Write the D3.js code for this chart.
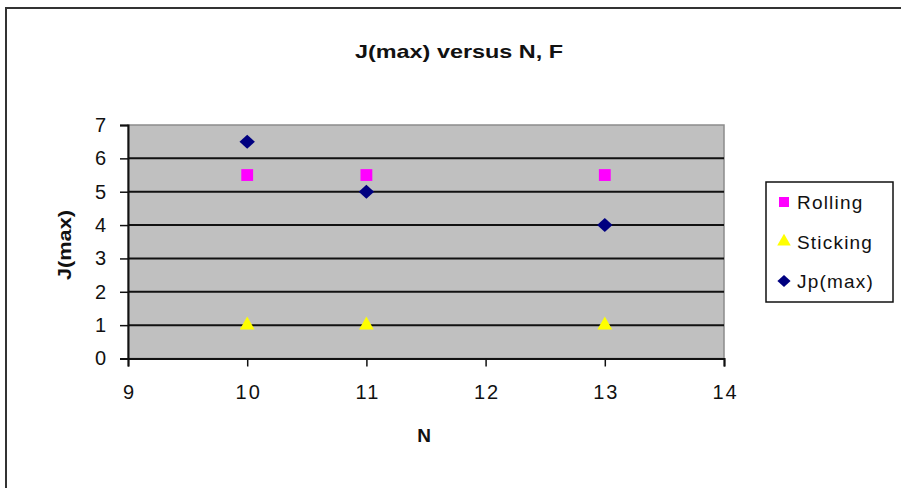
<!DOCTYPE html>
<html>
<head>
<meta charset="utf-8">
<script src="https://cdn.jsdelivr.net/npm/d3@7"></script>
<style>
  body { margin: 0; background: #fff; }
  svg { display: block; font-family: Arial, "Liberation Sans", sans-serif; }
</style>
</head>
<body>
<div id="chart"></div>
<script>
// chart data
const nValues = [10, 11, 13];
const rolling = [5.5, 5.5, 5.5];
const sticking = [1, 1, 1];
const jpMax = [6.5, 5, 4];
const xTicks = [9, 10, 11, 12, 13, 14];
const yTicks = [0, 1, 2, 3, 4, 5, 6, 7];

const width = 901, height = 488;
const plot = { left: 128, top: 125, right: 724, bottom: 358.5 };

const svg = d3.select('#chart').append('svg')
    .attr('width', width)
    .attr('height', height);

// outer chart frame (only left and top edges are visible)
svg.append('rect')
    .attr('x', 6).attr('y', 8)
    .attr('width', width + 10).attr('height', height + 10)
    .attr('fill', 'none')
    .attr('stroke', '#333')
    .attr('stroke-width', 2);

const x = d3.scaleLinear().domain([9, 14]).range([plot.left, plot.right]);
const y = d3.scaleLinear().domain([0, 7]).range([plot.bottom, plot.top]);

// plot background
svg.append('rect')
    .attr('x', plot.left).attr('y', plot.top)
    .attr('width', plot.right - plot.left)
    .attr('height', plot.bottom - plot.top)
    .attr('fill', '#c0c0c0')
    .attr('stroke', '#8c8c8c')
    .attr('stroke-width', 1.5);

// gridlines
svg.append('g')
    .selectAll('line')
    .data(yTicks.filter(d => d > 0 && d < 7))
    .join('line')
    .attr('x1', plot.left).attr('x2', plot.right)
    .attr('y1', d => y(d)).attr('y2', d => y(d))
    .attr('stroke', '#111')
    .attr('stroke-width', 2);

// axes
const yAxis = svg.append('g')
    .attr('transform', `translate(${plot.left},0)`)
    .call(d3.axisLeft(y).tickValues(yTicks).tickSize(8).tickPadding(12).tickFormat(d3.format('d')));
const xAxis = svg.append('g')
    .attr('transform', `translate(0,${plot.bottom})`)
    .call(d3.axisBottom(x).tickValues(xTicks).tickSize(8).tickPadding(18).tickFormat(d3.format('d')));

[yAxis, xAxis].forEach(g => {
    g.select('.domain').attr('stroke', '#111').attr('stroke-width', 2);
    g.selectAll('.tick line').attr('stroke', '#111').attr('stroke-width', 1.5);
    g.selectAll('.tick text')
        .attr('font-size', 20)
        .attr('letter-spacing', 2)
        .attr('fill', '#111')
        .attr('font-family', 'Arial, "Liberation Sans", sans-serif');
});
xAxis.selectAll('.tick text').attr('dx', 1);

// series
const symSquare = d3.symbol().type(d3.symbolSquare).size(140);
const symTriangle = d3.symbol().type(d3.symbolTriangle).size(95);
const diamond = s => `M0,${-s}L${s * 1.1},0L0,${s}L${-s * 1.1},0Z`;

svg.append('g').selectAll('path')
    .data(nValues.map((n, i) => [n, rolling[i]]))
    .join('path')
    .attr('d', symSquare)
    .attr('transform', d => `translate(${x(d[0])},${y(d[1])})`)
    .attr('fill', '#ff00ff');

svg.append('g').selectAll('path')
    .data(nValues.map((n, i) => [n, sticking[i]]))
    .join('path')
    .attr('d', symTriangle)
    .attr('transform', d => `translate(${x(d[0])},${y(d[1])})`)
    .attr('fill', '#ffff00');

svg.append('g').selectAll('path')
    .data(nValues.map((n, i) => [n, jpMax[i]]))
    .join('path')
    .attr('d', diamond(7))
    .attr('transform', d => `translate(${x(d[0])},${y(d[1])})`)
    .attr('fill', '#000080');

// titles
svg.append('text')
    .attr('x', 459).attr('y', 58)
    .attr('text-anchor', 'middle')
    .attr('font-size', 19).attr('font-weight', 'bold')
    .attr('textLength', 208).attr('lengthAdjust', 'spacingAndGlyphs')
    .attr('fill', '#111')
    .text('J(max) versus N, F');

svg.append('text')
    .attr('x', 424).attr('y', 442)
    .attr('text-anchor', 'middle')
    .attr('font-size', 19).attr('font-weight', 'bold')
    .attr('fill', '#111')
    .text('N');

svg.append('text')
    .attr('transform', 'translate(71,245) rotate(-90)')
    .attr('text-anchor', 'middle')
    .attr('font-size', 18).attr('font-weight', 'bold')
    .attr('textLength', 70).attr('lengthAdjust', 'spacingAndGlyphs')
    .attr('fill', '#111')
    .text('J(max)');

// legend
const legend = svg.append('g');
legend.append('rect')
    .attr('x', 766).attr('y', 182)
    .attr('width', 127).attr('height', 120)
    .attr('fill', '#fff')
    .attr('stroke', '#111')
    .attr('stroke-width', 1.5);

const legendItems = [
    { name: 'Rolling', sym: d3.symbol().type(d3.symbolSquare).size(100)(), color: '#ff00ff' },
    { name: 'Sticking', sym: d3.symbol().type(d3.symbolTriangle).size(80)(), color: '#ffff00' },
    { name: 'Jp(max)', sym: diamond(6), color: '#000080' }
];
legendItems.forEach((item, i) => {
    const ly = 202 + i * 39.5;
    legend.append('path')
        .attr('d', item.sym)
        .attr('transform', `translate(784,${ly})`)
        .attr('fill', item.color);
    legend.append('text')
        .attr('x', 797).attr('y', ly + 7)
        .attr('font-size', 19)
        .attr('letter-spacing', 1.2)
        .attr('fill', '#111')
        .text(item.name);
});
</script>
</body>
</html>
